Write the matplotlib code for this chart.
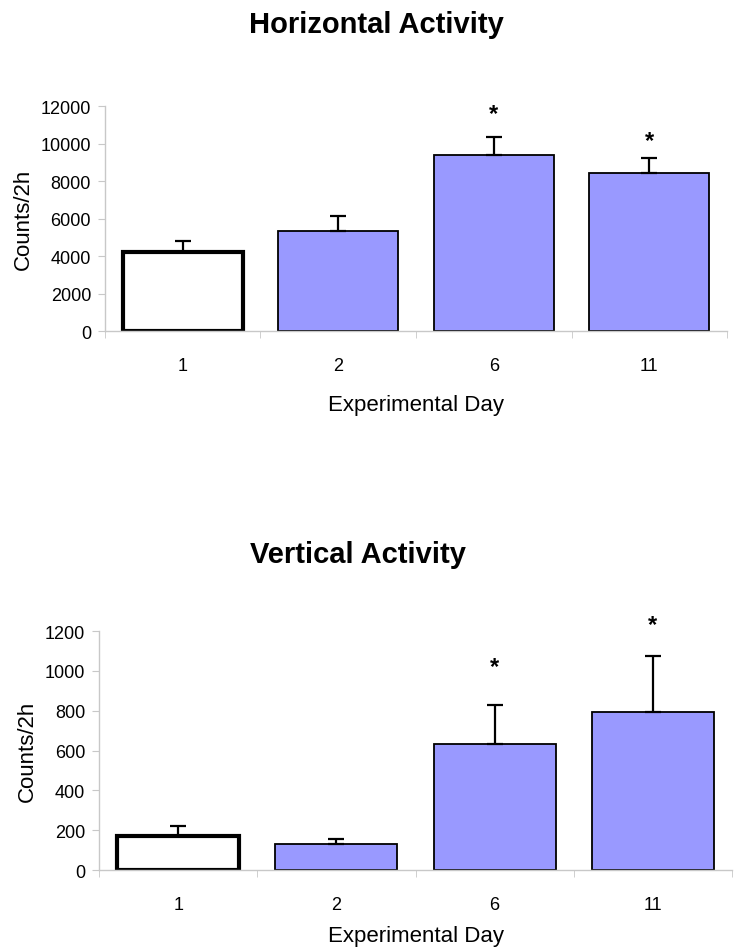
import matplotlib
matplotlib.use("Agg")
import matplotlib.pyplot as plt
import numpy as np

plt.rcParams['font.family'] = ['Liberation Sans', 'DejaVu Sans']

days = ["1", "2", "6", "11"]

horiz_means = [4230, 5330, 9380, 8420]
horiz_err = [580, 800, 970, 830]
horiz_star = [None, None, 11600, 10150]

vert_means = [172, 131, 635, 792]
vert_err = [48, 25, 192, 282]
vert_star = [None, None, 1020, 1235]

bar_colors = ["white", "#9999FF", "#9999FF", "#9999FF"]
edge_widths = [3.0, 1.3, 1.3, 1.3]

fig = plt.figure(figsize=(7.45, 9.53), dpi=100)

def draw(ax, means, errs, stars, ymax, step, title, title_xy, xlabelpad):
    x = np.arange(len(days))
    for i in range(len(days)):
        ax.bar(x[i], means[i], width=0.77, color=bar_colors[i],
               edgecolor="black", linewidth=edge_widths[i], zorder=2)
    ax.errorbar(x, means, yerr=[np.zeros(len(errs)), errs], fmt="none",
                ecolor="black", elinewidth=1.6, capsize=6, capthick=1.6, zorder=3)
    for i, s in enumerate(stars):
        if s is not None:
            ax.text(x[i], s, "*", ha="center", va="center",
                    fontsize=17, fontweight="bold")
    ax.set_xlim(-0.5, len(days) - 0.5)
    ax.set_ylim(0, ymax)
    ticks = np.arange(0, ymax + step / 2, step)
    ax.set_yticks(ticks)
    ax.set_yticklabels([str(int(v)) for v in ticks])
    ax.set_xticks(x)
    ax.set_xticklabels(days, fontsize=13)
    ax.set_xticks(np.arange(-0.5, len(days), 1.0), minor=True)
    ax.tick_params(axis="x", which="major", length=0, pad=19)
    ax.tick_params(axis="x", which="minor", length=5, color="#c8c8c8", direction="out")
    ax.tick_params(axis="y", length=5, color="#c8c8c8", labelsize=13, pad=5)
    for side in ["top", "right"]:
        ax.spines[side].set_visible(False)
    for side in ["left", "bottom"]:
        ax.spines[side].set_color("#c8c8c8")
        ax.spines[side].set_linewidth(1.0)
    ax.set_xlabel("Experimental Day", fontsize=16, labelpad=xlabelpad)
    ax.set_ylabel("Counts/2h", fontsize=16, labelpad=5)
    fig.text(title_xy[0], title_xy[1], title, ha="center", va="center",
             fontsize=21, fontweight="bold")

ax1 = fig.add_axes([0.1409, 0.6516, 0.835, 0.2361])
draw(ax1, horiz_means, horiz_err, horiz_star, 12000, 2000,
     "Horizontal Activity", (376 / 745, 1 - 25 / 953), 14)

ax2 = fig.add_axes([0.1329, 0.0860, 0.8497, 0.2508])
draw(ax2, vert_means, vert_err, vert_star, 1200, 200,
     "Vertical Activity", (358 / 745, 1 - 555 / 953), 8)

fig.savefig("out.png", dpi=100)
